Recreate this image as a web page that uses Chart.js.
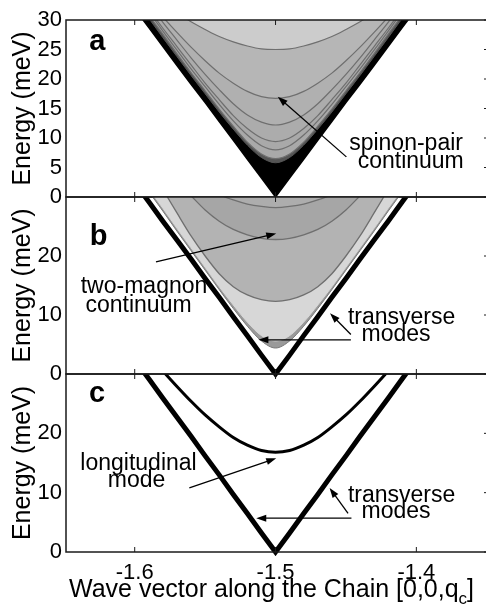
<!DOCTYPE html>
<html>
<head>
<meta charset="utf-8">
<script src="https://cdn.jsdelivr.net/npm/chart.js@4.4.0/dist/chart.umd.min.js"></script>
<style>
  html, body { margin: 0; padding: 0; background: #fff; overflow: hidden; }
  #wrap { position: relative; width: 486px; height: 614px; overflow: hidden; }
  #wrap canvas { position: absolute; left: 0; top: 0; }
</style>
</head>
<body>
<div id="wrap">
  <canvas id="panelA" width="495" height="614"></canvas>
  <canvas id="panelB" width="495" height="614"></canvas>
  <canvas id="panelC" width="495" height="614"></canvas>
</div>
<script>
const qGrid = [-1.60, -1.59, -1.58, -1.57, -1.56, -1.55, -1.54, -1.53, -1.52, -1.51, -1.50,
               -1.49, -1.48, -1.47, -1.46, -1.45, -1.44, -1.43, -1.42, -1.41, -1.40];
const xTicks = [-1.6, -1.5, -1.4];
const yTicksA = [0, 5, 10, 15, 20, 25, 30];
const yTicksBC = [0, 10, 20];

// a: spinon-pair continuum (lower edge + intensity contours), meV
const spinonEdge     = [31.9, 28.7, 25.5, 22.3, 19.1, 16.0, 12.8, 9.6, 6.4, 3.2, 0, 3.2, 6.4, 9.6, 12.8, 16.0, 19.1, 22.3, 25.5, 28.7, 31.9];
const spinonBlackTop = [33.5, 30.3, 27.0, 23.8, 20.6, 17.5, 14.4, 11.5, 8.8, 6.7, 5.8, 6.7, 8.8, 11.5, 14.4, 17.5, 20.6, 23.8, 27.0, 30.3, 33.5];
const spinonShade    = [34.1, 30.8, 27.6, 24.3, 21.1, 18.0, 14.9, 12.0, 9.3, 7.3, 6.5, 7.3, 9.3, 12.0, 14.9, 18.0, 21.1, 24.3, 27.6, 30.8, 34.1];
const spinonC8       = [34.6, 31.4, 28.1, 24.9, 21.7, 18.7, 15.7, 12.9, 10.5, 8.7, 8.0, 8.7, 10.5, 12.9, 15.7, 18.7, 21.7, 24.9, 28.1, 31.4, 34.6];
const spinonC9       = [35.0, 31.8, 28.6, 25.5, 22.4, 19.3, 16.5, 13.8, 11.6, 10.0, 9.4, 10.0, 11.6, 13.8, 16.5, 19.3, 22.4, 25.5, 28.6, 31.8, 35.0];
const spinonC12      = [35.9, 32.7, 29.6, 26.6, 23.6, 20.8, 18.2, 15.8, 13.9, 12.7, 12.2, 12.7, 13.9, 15.8, 18.2, 20.8, 23.6, 26.6, 29.6, 32.7, 35.9];
const spinonC17      = [36.0, 33.2, 30.5, 27.9, 25.4, 23.1, 21.0, 19.3, 17.9, 17.0, 16.7, 17.0, 17.9, 19.3, 21.0, 23.1, 25.4, 27.9, 30.5, 33.2, 36.0];
const spinonC25      = [null, null, 32.9, 31.3, 29.7, 28.4, 27.2, 26.3, 25.6, 25.1, 25.0, 25.1, 25.6, 26.3, 27.2, 28.4, 29.7, 31.3, 32.9, null, null];

// b: two-magnon continuum
const magnonEdge = [34.3, 30.9, 27.6, 24.2, 20.9, 17.6, 14.3, 11.1, 8.1, 5.6, 4.4, 5.6, 8.1, 11.1, 14.3, 17.6, 20.9, 24.2, 27.6, 30.9, 34.3];
const magnonRim  = [34.8, 31.4, 28.1, 24.7, 21.4, 18.1, 14.8, 11.7, 8.8, 6.5, 5.6, 6.5, 8.8, 11.7, 14.8, 18.1, 21.4, 24.7, 28.1, 31.4, 34.8];
const magnonC1   = [null, 35.5, 31.3, 27.3, 23.4, 20.0, 17.0, 14.8, 13.4, 12.6, 12.3, 12.6, 13.4, 14.8, 17.0, 20.0, 23.4, 27.3, 31.3, 35.5, null];
const magnonC2   = [null, null, null, null, 30.2, 27.8, 25.9, 24.5, 23.6, 23.0, 22.8, 23.0, 23.6, 24.5, 25.9, 27.8, 30.2, null, null, null, null];
const magnonC3   = [null, null, null, null, null, 31.6, 30.4, 29.5, 28.8, 28.4, 28.2, 28.4, 28.8, 29.5, 30.4, 31.6, null, null, null, null, null];

// b, c: modes
const transverse   = [32.4, 29.2, 25.9, 22.7, 19.5, 16.2, 13.0, 9.7, 6.5, 3.2, 0, 3.2, 6.5, 9.7, 13.0, 16.2, 19.5, 22.7, 25.9, 29.2, 32.4];
const longitudinal = [36.0, 33.1, 30.5, 27.9, 25.4, 23.1, 21.1, 19.3, 18.0, 17.1, 16.8, 17.1, 18.0, 19.3, 21.1, 23.1, 25.4, 27.9, 30.5, 33.1, 36.0];

const xTitle = ['Wave vector along the Chain [0,0,q', 'c', ']'];
const yTitle = 'Energy (meV)';

const FONT = "'Liberation Sans', Arial, Helvetica, sans-serif";
const CANVAS_W = 495, CANVAS_H = 614;
const PLOT_LEFT = 66, PLOT_RIGHT = 490;
const X_MIN = -1.6488, X_MAX = -1.3477;

const notesA = {
  labels: [
    {text: 'a', q: -1.6265, e: 24.9, bold: true},
    {text: 'spinon-pair', q: -1.4073, e: 8.0},
    {text: 'continuum', q: -1.4040, e: 4.9}
  ],
  arrows: [{from: [-1.4497, 6.8], to: [-1.4984, 17.0]}]
};
const notesB = {
  labels: [
    {text: 'b', q: -1.6257, e: 21.9, bold: true},
    {text: 'two-magnon', q: -1.5934, e: 13.7},
    {text: 'continuum', q: -1.5973, e: 10.5},
    {text: 'transverse', q: -1.4105, e: 8.5},
    {text: 'modes', q: -1.4144, e: 5.6}
  ],
  arrows: [
    {from: [-1.5849, 19.0], to: [-1.4995, 23.8]},
    {from: [-1.4465, 6.7], to: [-1.4613, 10.3]},
    {from: [-1.4465, 5.8], to: [-1.5122, 5.8]}
  ]
};
const notesC = {
  labels: [
    {text: 'c', q: -1.6268, e: 25.2, bold: true},
    {text: 'longitudinal', q: -1.5973, e: 13.85},
    {text: 'mode', q: -1.5987, e: 10.9},
    {text: 'transverse', q: -1.4105, e: 8.5},
    {text: 'modes', q: -1.4144, e: 5.7}
  ],
  arrows: [
    {from: [-1.5612, 10.8], to: [-1.4995, 15.8]},
    {from: [-1.4485, 6.5], to: [-1.4616, 10.8]},
    {from: [-1.4461, 5.7], to: [-1.5137, 5.7]}
  ]
};

function drawArrow(ctx, x1, y1, x2, y2) {
  const ang = Math.atan2(y2 - y1, x2 - x1);
  const len = 10, half = 3.5;
  ctx.beginPath();
  ctx.moveTo(x1, y1);
  ctx.lineTo(x2 - Math.cos(ang) * len * 0.8, y2 - Math.sin(ang) * len * 0.8);
  ctx.stroke();
  ctx.beginPath();
  ctx.moveTo(x2, y2);
  ctx.lineTo(x2 - Math.cos(ang) * len - Math.sin(ang) * half, y2 - Math.sin(ang) * len + Math.cos(ang) * half);
  ctx.lineTo(x2 - Math.cos(ang) * len + Math.sin(ang) * half, y2 - Math.sin(ang) * len - Math.cos(ang) * half);
  ctx.closePath();
  ctx.fill();
}

function panelPlugin(notes, yTicks, withXTitle) {
  return {
    id: 'panelDeco',
    afterDraw(chart) {
      const {ctx, chartArea: a, scales: {x, y}} = chart;
      ctx.save();
      ctx.strokeStyle = '#1a1a1a';
      ctx.lineWidth = 1.5;
      ctx.strokeRect(a.left, a.top, a.right - a.left, a.bottom - a.top);
      ctx.lineWidth = 1;
      ctx.beginPath();
      xTicks.forEach(v => {
        const px = x.getPixelForValue(v);
        ctx.moveTo(px, a.bottom); ctx.lineTo(px, a.bottom - 5);
        ctx.moveTo(px, a.top); ctx.lineTo(px, a.top + 5);
      });
      yTicks.forEach(v => {
        const py = y.getPixelForValue(v);
        ctx.moveTo(a.right, py); ctx.lineTo(a.right - 6, py);
      });
      ctx.stroke();

      ctx.fillStyle = '#000';
      ctx.strokeStyle = '#000';
      ctx.lineWidth = 1.3;
      ctx.textAlign = 'center';
      ctx.textBaseline = 'alphabetic';
      notes.labels.forEach(l => {
        ctx.font = (l.bold ? 'bold 29px ' : '23px ') + FONT;
        ctx.fillText(l.text, x.getPixelForValue(l.q), y.getPixelForValue(l.e));
      });
      notes.arrows.forEach(ar => {
        drawArrow(ctx, x.getPixelForValue(ar.from[0]), y.getPixelForValue(ar.from[1]),
                  x.getPixelForValue(ar.to[0]), y.getPixelForValue(ar.to[1]));
      });

      if (withXTitle) {
        const big = '25px ' + FONT, small = '17px ' + FONT;
        ctx.font = big;
        const w0 = ctx.measureText(xTitle[0]).width;
        const w2 = ctx.measureText(xTitle[2]).width;
        ctx.font = small;
        const w1 = ctx.measureText(xTitle[1]).width;
        const base = a.bottom + 45;
        let left = x.getPixelForValue(-1.5) - 4 - (w0 + w1 + w2) / 2;
        ctx.textAlign = 'left';
        ctx.font = big;
        ctx.fillText(xTitle[0], left, base);
        ctx.font = small;
        ctx.fillText(xTitle[1], left + w0, base + 7);
        ctx.font = big;
        ctx.fillText(xTitle[2], left + w0 + w1, base);
      }
      ctx.restore();
    }
  };
}

function makePanel(id, top, bottom, yTicks, layers, notes, withXAxis) {
  const datasets = layers.map((l, i) => ({
    data: qGrid.map((q, k) => ({x: q, y: l.values[k]})),
    order: layers.length - i,
    pointRadius: 0,
    borderColor: l.line || l.fill,
    borderWidth: l.width || 1,
    backgroundColor: l.fill || 'rgba(0,0,0,0)',
    fill: l.fill ? 'end' : false,
    tension: 0,
    cubicInterpolationMode: l.smooth ? 'monotone' : 'default',
    borderJoinStyle: 'miter',
    spanGaps: false,
    clip: l.clip === undefined ? 0 : l.clip
  }));

  return new Chart(document.getElementById(id), {
    type: 'line',
    data: {datasets},
    plugins: [panelPlugin(notes, yTicks, withXAxis)],
    options: {
      responsive: false,
      animation: false,
      events: [],
      layout: {
        autoPadding: false,
        padding: {top: top, bottom: withXAxis ? 0 : CANVAS_H - bottom, left: 0, right: CANVAS_W - PLOT_RIGHT}
      },
      plugins: {legend: {display: false}, tooltip: {enabled: false}},
      scales: {
        x: {
          type: 'linear',
          min: X_MIN,
          max: X_MAX,
          display: withXAxis,
          afterBuildTicks: s => { s.ticks = xTicks.map(v => ({value: v})); },
          afterFit: s => { if (withXAxis) s.height = CANVAS_H - bottom; },
          grid: {display: false, drawTicks: false},
          border: {display: false},
          ticks: {
            font: {family: FONT, size: 22},
            color: '#000',
            padding: 8,
            maxRotation: 0,
            autoSkip: false,
            callback: v => v.toFixed(1)
          }
        },
        y: {
          type: 'linear',
          min: 0,
          max: 30,
          afterBuildTicks: s => { s.ticks = yTicks.map(v => ({value: v})); },
          afterFit: s => { s.width = PLOT_LEFT; },
          grid: {display: false, drawTicks: false},
          border: {display: false},
          ticks: {font: {family: FONT, size: 22}, color: '#000', padding: 4, autoSkip: false},
          title: {
            display: true,
            text: yTitle,
            color: '#000',
            font: {family: FONT, size: 25},
            padding: {top: 8, bottom: 0}
          }
        }
      }
    }
  });
}

const contour = '#6f6f6f';
const vClip = {left: 0, top: 0, right: 0, bottom: 4};

makePanel('panelA', 20, 197, yTicksA, [
  {values: spinonEdge, fill: '#000000', line: '#000000', width: 1.5},
  {values: spinonBlackTop, fill: '#555555', smooth: true},
  {values: spinonShade, fill: '#a9a9a9', line: contour, width: 1.2, smooth: true},
  {values: spinonC8, line: contour, width: 1.2, smooth: true},
  {values: spinonC9, fill: '#acacac', line: contour, width: 1.2, smooth: true},
  {values: spinonC12, fill: '#b0b0b0', line: contour, width: 1.2, smooth: true},
  {values: spinonC17, fill: '#b6b6b6', line: contour, width: 1.2, smooth: true},
  {values: spinonC25, fill: '#cccccc', line: contour, width: 1.2, smooth: true}
], notesA, false);

makePanel('panelB', 197, 374, yTicksBC, [
  {values: magnonEdge, fill: '#9a9a9a', line: '#7a7a7a', width: 1, smooth: true},
  {values: magnonRim, fill: '#d7d7d7', smooth: true},
  {values: magnonC1, fill: '#b3b3b3', line: contour, width: 1.3, smooth: true},
  {values: magnonC2, fill: '#a6a6a6', line: contour, width: 1.3, smooth: true},
  {values: magnonC3, fill: '#adadad', line: contour, width: 1.3, smooth: true},
  {values: transverse, line: '#000000', width: 5, clip: vClip}
], notesB, false);

makePanel('panelC', 374, 552, yTicksBC, [
  {values: longitudinal, line: '#000000', width: 3, smooth: true},
  {values: transverse, line: '#000000', width: 5, clip: vClip}
], notesC, true);
</script>
</body>
</html>
